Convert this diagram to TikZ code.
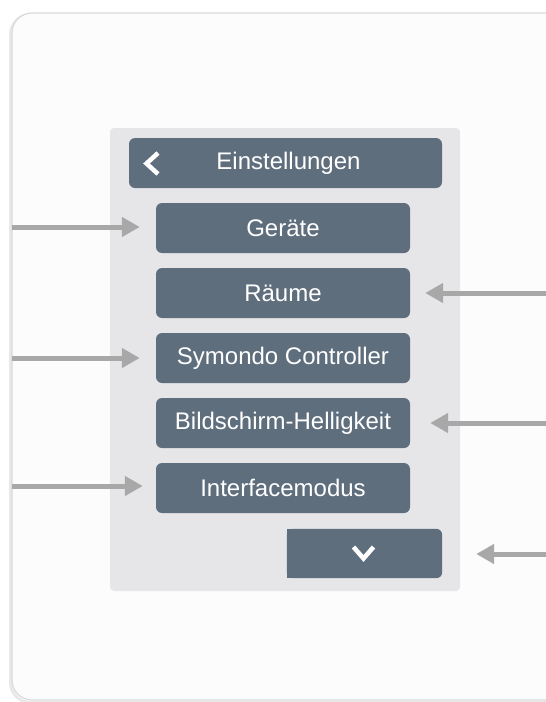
\documentclass[tikz,border=0pt]{standalone}
\usepackage{fontspec}
\setmainfont{Liberation Sans}
\usepackage{xcolor}
\usetikzlibrary{arrows.meta}

\definecolor{slate}{HTML}{5F6E7D}
\definecolor{panelgray}{HTML}{E6E6E9}
\definecolor{arrowgray}{HTML}{A8A8A8}
\definecolor{cardedge}{HTML}{DADADA}
\definecolor{cardshadow}{HTML}{E8E8E8}

\begin{document}
\begin{tikzpicture}[x=1pt,y=-1pt,
	btn/.style={fill=slate,rounded corners=6pt,text=white,minimum width=254pt,minimum height=50pt,inner sep=0pt,font=\fontsize{24}{27}\selectfont},
	pointer/.style={draw=arrowgray,line width=5pt,-{Triangle[length=18pt,width=19pt]}},
	chevron/.style={draw=white,line width=4.5pt}]
	\useasboundingbox (0,0) rectangle (546,702);
	\clip (0,0) rectangle (546,702);
	
	
	\draw[cardshadow,line width=3pt,rounded corners=20pt] (10.5,14.5) rectangle (600,702.5);
	\filldraw[fill=white!99!black,draw=cardedge,line width=1.2pt,rounded corners=20pt] (12,13) rectangle (600,700);
	\fill[panelgray,rounded corners=4pt] (110,128) rectangle (460,591);
	
	
	\node[btn,minimum width=313pt] (head) at (285.5,163) {\hspace*{6pt}Einstellungen};
	\draw[chevron] (158,153) -- (146.5,163.5) -- (158,174);
	
	\node[btn] (geraete) at (283,228) {Geräte};
	\node[btn] (raeume) at (283,293) {Räume};
	\node[btn] (symondo) at (283,358) {Symondo Controller};
	\node[btn] (hell) at (283,423) {Bildschirm-Helligkeit};
	\node[btn] (iface) at (283,488) {Interfacemodus};
	
	\node[minimum width=155pt,minimum height=49pt,inner sep=0pt] (down) at (364.5,553.5) {};
	\fill[slate,rounded corners=6pt] (down.south west) rectangle (down.north east);
	\fill[slate] (down.south west) rectangle ([xshift=10pt]down.north west);
	\draw[chevron] (353.5,547) -- (363.5,558.5) -- (373.5,547);
	
	
	\coordinate (l1) at (12,227);
	\coordinate (l2) at (12,358);
	\coordinate (l3) at (12,486);
	\coordinate (r1) at (546,293);
	\coordinate (r2) at (546,423);
	\coordinate (r3) at (546,554);
	
	\draw[pointer,shorten >=16pt] (l1) -- (l1 -| geraete.west);
	\draw[pointer,shorten >=16pt] (l2) -- (l2 -| symondo.west);
	\draw[pointer,shorten >=13pt] (l3) -- (l3 -| iface.west);
	\draw[pointer,shorten >=15pt] (r1) -- (raeume.east);
	\draw[pointer,shorten >=20pt] (r2) -- (hell.east);
	\draw[pointer,shorten >=34pt] (r3) -- (r3 -| down.east);
\end{tikzpicture}
\end{document}
